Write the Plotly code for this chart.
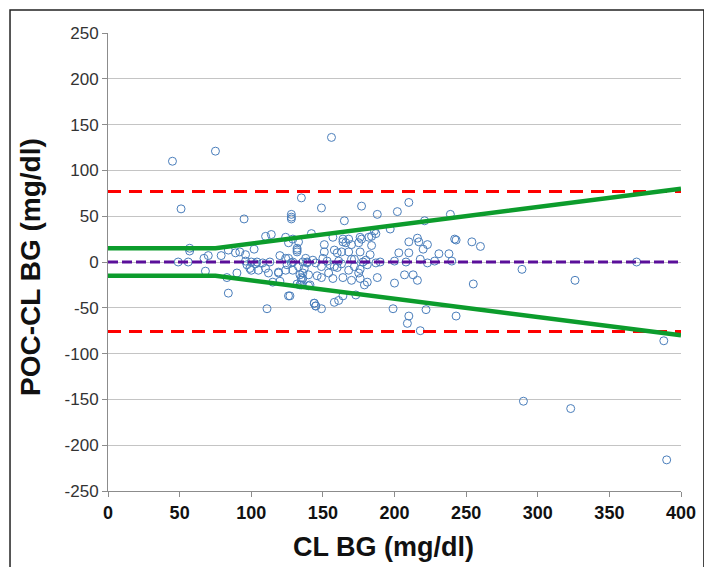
import plotly.graph_objects as go

# CL BG (x) and POC-CL BG difference (y)
cl_bg = [45, 75, 156, 51, 95, 128, 128, 128, 135, 149, 177, 210, 188, 202, 239, 165, 221, 142, 197,
         57, 57, 49, 56, 67, 70, 68, 79, 84, 89, 92, 96, 102, 83, 84, 90, 110, 114, 120, 124, 126,
         124, 126, 129, 133, 132, 132, 132, 138,
         96, 97, 99, 100, 104, 105, 108, 112, 113, 100, 103, 110,
         115, 111, 119, 124, 125, 126, 132, 135, 136, 136, 137, 139, 140, 144, 145, 128, 129, 120, 119,
         186, 187, 184, 182, 176, 177, 175, 170, 168, 164, 164, 166, 157, 151, 151, 158, 160, 163, 184, 183, 176, 168,
         210, 216, 217, 223, 220, 210, 203, 231, 238, 242, 243, 254, 260,
         129, 133, 136, 139, 143, 150, 149, 153, 158, 161, 172, 172, 176, 178, 187, 208, 223,
         145, 155, 163, 170, 180, 181, 190, 200, 218, 240, 228,
         134, 135, 135, 134, 140, 146, 149, 154, 157, 160, 164, 168, 170, 176, 175, 179, 181, 188, 200, 207, 213, 216, 255, 141,
         127, 144, 145, 149, 158, 161, 164, 173, 199, 210, 209, 222, 243, 218,
         289, 326, 369, 388, 290, 323, 390]
poc_diff = [110, 121, 136, 58, 47, 52, 49, 47, 70, 59, 61, 65, 52, 55, 52, 45, 45, 31, 36,
            15, 12, 0, 0, 4, 7, -10, 7, 13, 10, 11, 8, 14, -17, -34, -12, 28, 30, 7, 4, 4,
            27, 21, 25, 22, 15, 13, 11, 4,
            1, -3, -7, -9, 0, -9, -1, -12, 0, 0, -2, -7,
            -22, -51, -12, -9, -3, -37, -24, -25, -18, -12, -7, -1, -14, -45, -48, -1, -9, -21, -11,
            34, 31, 28, 27, 27, 25, 21, 19, 25, 25, 22, 21, 27, 19, 11, 13, 10, 11, 18, 8, 11, 11,
            22, 26, 22, 19, 14, 10, 10, 9, 9, 25, 24, 22, 17,
            0, -5, 0, 0, 2, 4, -5, 1, -5, 1, 3, -5, -8, 0, -1, 0, -1,
            -1, -3, -2, 3, 2, -3, 0, 1, 3, 1, 1,
            -14, -17, -20, -25, -26, -15, -17, -12, -18, -6, -17, -9, -20, -18, -12, -25, -22, -17, -23, -14, -14, -20, -24, -25,
            -37, -45, -48, -51, -44, -42, -37, -36, -51, -59, -67, -52, -59, -75,
            -8, -20, 0, -86, -152, -160, -216]

# Error-grid boundary (±15 below 75, ±20% above)
bound_x = [0, 75, 400]
bound_upper = [15, 15, 80]
bound_lower = [-15, -15, -80]

# Limits of agreement and mean bias
loa_x = [0, 400]
loa_upper = [77, 77]
loa_lower = [-76, -76]
bias = [0, 0]

y_ticks = [-250, -200, -150, -100, -50, 0, 50, 100, 150, 200, 250]
y_tick_labels = ["-250", "-200", "-150", "-100", "-50", "0", "50", "100", "150", "200", "250"]
x_ticks = [0, 50, 100, 150, 200, 250, 300, 350, 400]
x_tick_labels = ["0", "50", "100", "150", "200", "250", "300", "350", "400"]

FONT = "Liberation Sans, Arial, sans-serif"

fig = go.Figure()
fig.add_trace(go.Scatter(
    x=cl_bg, y=poc_diff, mode="markers",
    marker=dict(symbol="circle-open", size=8, color="#4a7ebb", line=dict(width=1, color="#4a7ebb")),
    showlegend=False))
fig.add_trace(go.Scatter(x=loa_x, y=loa_upper, mode="lines",
                         line=dict(color="#ff0000", width=3, dash="13px,8px"), showlegend=False))
fig.add_trace(go.Scatter(x=loa_x, y=loa_lower, mode="lines",
                         line=dict(color="#ff0000", width=3, dash="13px,8px"), showlegend=False))
fig.add_trace(go.Scatter(x=loa_x, y=bias, mode="lines",
                         line=dict(color="#5a0f9a", width=3, dash="10px,4px"), showlegend=False))
fig.add_trace(go.Scatter(x=bound_x, y=bound_upper, mode="lines",
                         line=dict(color="#0c9c2c", width=4.5), showlegend=False))
fig.add_trace(go.Scatter(x=bound_x, y=bound_lower, mode="lines",
                         line=dict(color="#0c9c2c", width=4.5), showlegend=False))

fig.update_layout(
    width=712, height=567,
    margin=dict(l=100, r=39, t=25, b=84),
    paper_bgcolor="white", plot_bgcolor="white",
    font=dict(family=FONT, color="#222"),
    xaxis=dict(range=[0, 400], tickvals=x_ticks, ticktext=x_tick_labels, showgrid=False, zeroline=False,
               showline=True, linecolor="#8c8c8c", linewidth=1,
               ticks="outside", ticklen=5, tickcolor="#8c8c8c",
               tickfont=dict(family=FONT, size=18, color="#111", weight="bold")),
    yaxis=dict(range=[-250, 250], tickvals=y_ticks, ticktext=y_tick_labels, showgrid=True,
               gridcolor="#c4c4c4", gridwidth=1,
               zeroline=False, showline=True, linecolor="#8c8c8c", linewidth=1,
               ticks="outside", ticklen=5, tickcolor="#8c8c8c",
               tickfont=dict(family=FONT, size=17, color="#333")),
    annotations=[
        dict(text="<b>CL BG (mg/dl)</b>", xref="paper", yref="paper", x=0.48, y=-0.085,
             xanchor="center", yanchor="top", showarrow=False,
             font=dict(family=FONT, size=27, color="#111")),
        dict(text="<b>POC-CL BG (mg/dl)</b>", xref="paper", yref="paper", x=-0.105, y=0.49,
             xanchor="right", yanchor="middle", textangle=-90, showarrow=False,
             font=dict(family=FONT, size=28, color="#111")),
    ],
    shapes=[dict(type="rect", xref="paper", yref="paper", x0=-0.171, x1=1.04, y0=-0.2, y1=1.05,
                 line=dict(color="#222", width=1.5), fillcolor="rgba(0,0,0,0)")],
)

fig.write_html("out.html")
